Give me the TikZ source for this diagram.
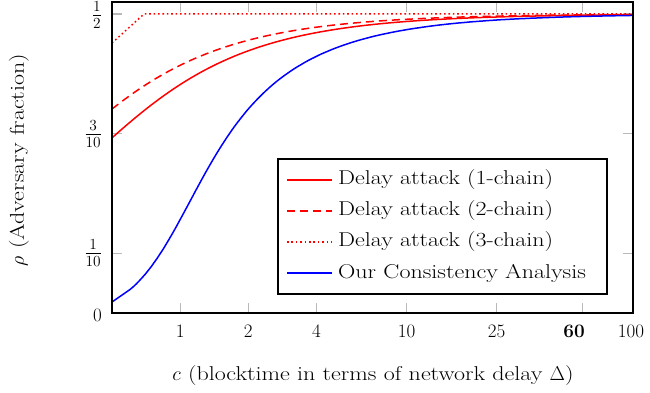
\documentclass[tikz,border=0pt]{standalone}
\usepackage{fix-cm}
\usepackage{fontspec}
\setmainfont{Latin Modern Roman}[FakeStretch=1.2]
\newfontfamily\tickfont{Latin Modern Roman}
\begin{document}
\begin{tikzpicture}[x=1pt,y=-1pt,
  font=\fontsize{20}{24}\selectfont,
  declare function={
    % one-chain delay attack bound, written to avoid large intermediates
    rone(\c)=2/(2+1/\c+sqrt(4+(1/\c)*(1/\c)));
    % consistency bound, parametrised by v = ln(u/(1-u)), u = 1 - rho
    vv(\w)=pow(10,\w);
    uu(\w)=1/(1+exp(-vv(\w)));
    cc(\w)=2*uu(\w)/vv(\w);
  },
  frame/.style={line width=1.8pt, black},
  tickmark/.style={line width=1.1pt, gray!55},
  chainone/.style={red, line width=1.5pt},
  chaintwo/.style={red, line width=1.5pt, dash pattern=on 8pt off 5pt},
  chainthree/.style={red, line width=1.5pt, dash pattern=on 1.6pt off 2.8pt},
  ours/.style={blue, line width=1.5pt},
  ticklabel/.style={inner sep=0pt, font=\tickfont\fontsize{19}{22}\selectfont},
  fraclabel/.style={inner sep=0pt, anchor=east, font=\fontsize{22}{26}\selectfont},
]
\useasboundingbox (0,0) rectangle (650,393);

% plot area corners
\coordinate (SW) at (112,313);
\coordinate (NE) at (633,2);

% x ticks (log scale: c=0.5 at 112, c=100 at 633)
\foreach \c/\nm in {1/a,2/b,4/c,10/d,25/e,60/f}{
  \coordinate (bx\nm) at ({180.15+226.4*log10(\c)},313);
  \coordinate (tx\nm) at ({180.15+226.4*log10(\c)},2);
  \draw[tickmark] (bx\nm) -- ++(0,-10);
  \draw[tickmark] (tx\nm) -- ++(0,10);
}
% y ticks
\foreach \r/\nm in {0.1/a,0.3/b,0.5/c}{
  \coordinate (ly\nm) at (112,{313-598*\r});
  \coordinate (ry\nm) at (633,{313-598*\r});
  \draw[tickmark] (ly\nm) -- ++(10,0);
  \draw[tickmark] (ry\nm) -- ++(-10,0);
}

% curves
\begin{scope}
  \clip (SW) rectangle (NE);
  \draw[chainone] plot[domain=-0.30103:2, samples=120, variable=\t]
    ({180.15+226.4*\t}, {313-598*rone(pow(10,\t))});
  \draw[chaintwo] plot[domain=-0.30103:2, samples=120, variable=\t]
    ({180.15+226.4*\t}, {313-598*rone(1.41421*pow(10,\t))});
  \coordinate (d0) at (112,{313-598*0.4515});
  \coordinate (d1) at (144,14);
  \coordinate (d2) at (633,14);
  \draw[chainthree] (d0) -- (d1) -- (d2);
  % first sample at c = 0.5, then the curve from c = 0.6 on
  \coordinate (b0) at (112,302);
  \draw[ours] (b0) -- plot[domain=0.505:-2.05, samples=160, variable=\w]
    ({180.15+226.4*log10(cc(\w))}, {313-598*(1-uu(\w))});
\end{scope}

% frame
\draw[frame] (SW) rectangle (NE);

% x tick labels
\node[ticklabel] (xl1) at (180.15,331) {1};
\node[ticklabel] (xl2) at (248.3,331) {2};
\node[ticklabel] (xl4) at (316.5,331) {4};
\node[ticklabel] (xl10) at (406.5,331) {10};
\node[ticklabel] (xl25) at (496.6,331) {25};
\node[ticklabel] (xl60) at (574,331) {\bfseries 60};
\node[ticklabel] (xl100) at (631,331) {100};

% y tick labels
\node[ticklabel, anchor=east] (yl0) at (102,315) {$0$};
\node[fraclabel] (yl1) at (102,253) {$\frac{1}{10}$};
\node[fraclabel] (yl3) at (102,134) {$\frac{3}{10}$};
\node[fraclabel] (yl5) at (102,15) {$\frac{1}{2}$};

% axis titles
\node[rotate=90] (ylab) at (19,160) {$\rho$ (Adversary fraction)};
\node (xlab) at (373,376) {$c$ (blocktime in terms of network delay $\Delta$)};

% legend
\node[draw, line width=1.8pt, fill=white, minimum width=329pt, minimum height=135pt,
      inner sep=0pt] (legend) at (442.5,226.5) {};
\foreach \y/\st/\nm/\txt in {
    180/chainone/a/{Delay attack (1-chain)},
    211/chaintwo/b/{Delay attack (2-chain)},
    242/chainthree/c/{Delay attack (3-chain)},
    273/ours/d/{Our Consistency Analysis}}{
  \coordinate (la\nm) at (287,\y);
  \coordinate (lb\nm) at (332,\y);
  \draw[\st] (la\nm) -- (lb\nm);
  \node[anchor=west, inner sep=0pt] (lt\nm) at (338,\y) {\txt};
}
\end{tikzpicture}
\end{document}
